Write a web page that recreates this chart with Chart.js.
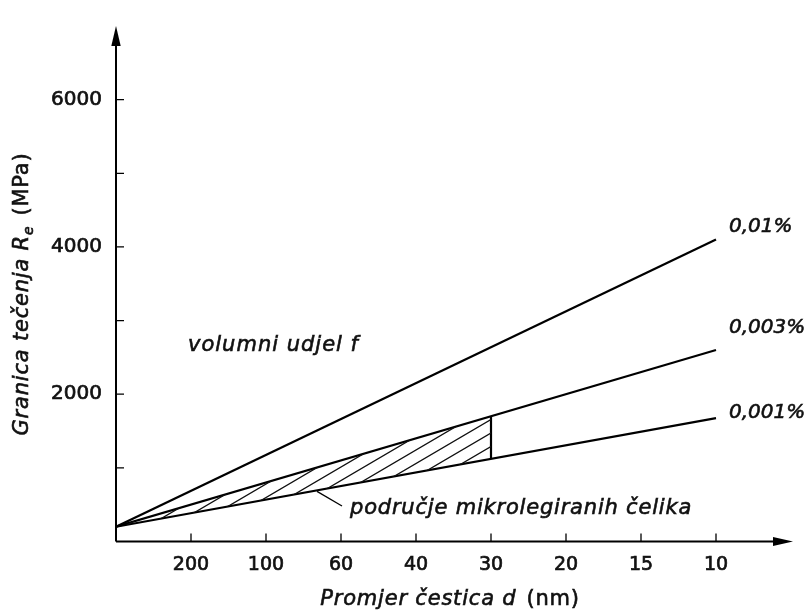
<!DOCTYPE html>
<html>
<head>
<meta charset="utf-8">
<script src="https://cdn.jsdelivr.net/npm/chart.js@4/dist/chart.umd.min.js"></script>
<style>
html,body{margin:0;padding:0;background:#fff;}
#wrap{width:811px;height:616px;}
</style>
</head>
<body>
<div id="wrap"><canvas id="c" width="811" height="616"></canvas></div>
<script>
// ---- data ----
const xTickLabels = ['200', '100', '60', '40', '30', '20', '15', '10']; // particle diameter d (nm), positions 1..8
const lineX = [0, 8];                 // start (origin) and end (10 nm) positions
const seriesNames = ['0,01%', '0,003%', '0,001%'];
const series001 = [200, 4100];        // volume fraction 0,01 %
const series0003 = [200, 2600];       // volume fraction 0,003 %
const series0001 = [200, 1675];       // volume fraction 0,001 %
const hatchX = [0, 5];                // micro-alloyed steel region up to 30 nm
const hatchUpper = [200, 1700];
const hatchLower = [200, 1120];
const yTickValues = [2000, 4000, 6000];

const FONT = "'DejaVu Sans'";
const pts = (xs, ys) => xs.map((x, i) => ({x: x, y: ys[i]}));
const lineStyle = {borderColor: '#000', borderWidth: 2.2, pointRadius: 0, fill: false, tension: 0};

const hatch = {
  id: 'hatch',
  afterDatasetsDraw(chart) {
    const ctx = chart.ctx;
    const xs = chart.scales.x, ys = chart.scales.y;
    ctx.save();
    ctx.beginPath();
    ctx.moveTo(xs.getPixelForValue(hatchX[0]), ys.getPixelForValue(hatchUpper[0]));
    ctx.lineTo(xs.getPixelForValue(hatchX[1]), ys.getPixelForValue(hatchUpper[1]));
    ctx.lineTo(xs.getPixelForValue(hatchX[1]), ys.getPixelForValue(hatchLower[1]));
    ctx.lineTo(xs.getPixelForValue(hatchX[0]), ys.getPixelForValue(hatchLower[0]));
    ctx.closePath();
    ctx.clip();
    const w = 23, h = 13.5, phase = 0.42, H = 616;
    ctx.strokeStyle = '#111';
    ctx.lineWidth = 1.3;
    ctx.beginPath();
    for (let k = 0; k < 95; k++) {
      const c = k + phase;
      ctx.moveTo(w * c, 0);
      ctx.lineTo(w * (c - H / h), H);
    }
    ctx.stroke();
    ctx.restore();
  }
};

const decor = {
  id: 'decor',
  afterDraw(chart) {
    const ctx = chart.ctx;
    const xs = chart.scales.x, ys = chart.scales.y;
    const a = chart.chartArea;
    ctx.save();
    ctx.strokeStyle = '#000';
    ctx.fillStyle = '#000';
    ctx.lineWidth = 2;
    // axes
    ctx.beginPath();
    ctx.moveTo(a.left, a.bottom); ctx.lineTo(a.left, a.top + 18);
    ctx.moveTo(a.left, a.bottom); ctx.lineTo(a.right - 16, a.bottom);
    ctx.stroke();
    // arrows
    ctx.beginPath();
    ctx.moveTo(a.left, a.top); ctx.lineTo(a.left - 4.7, a.top + 20); ctx.lineTo(a.left + 4.7, a.top + 20); ctx.closePath();
    ctx.fill();
    ctx.beginPath();
    ctx.moveTo(a.right + 2, a.bottom); ctx.lineTo(a.right - 18, a.bottom - 4.5); ctx.lineTo(a.right - 18, a.bottom + 4.5); ctx.closePath();
    ctx.fill();
    // inward ticks
    ctx.lineWidth = 1.3;
    ctx.beginPath();
    for (let v = 1000; v <= 6000; v += 1000) {
      const py = ys.getPixelForValue(v);
      ctx.moveTo(a.left, py); ctx.lineTo(a.left + 8, py);
    }
    for (let i = 1; i <= xTickLabels.length; i++) {
      const px = xs.getPixelForValue(i);
      ctx.moveTo(px, a.bottom); ctx.lineTo(px, a.bottom - 8);
    }
    ctx.stroke();

    function txt(t, x, y) {
      ctx.fillText(t, x, y);
      ctx.strokeText(t, x, y);
    }
    // series labels
    ctx.fillStyle = '#111';
    ctx.strokeStyle = '#111';
    ctx.lineWidth = 0.6;
    ctx.font = 'italic 20px ' + FONT;
    ctx.textAlign = 'left';
    ctx.textBaseline = 'middle';
    ctx.letterSpacing = '0px';
    const lx = xs.getPixelForValue(lineX[1]) + 13;
    txt(seriesNames[0], lx, 227);
    txt(seriesNames[1], lx, 328);
    txt(seriesNames[2], lx, 413);

    ctx.font = 'italic 21px ' + FONT;
    ctx.letterSpacing = '1px';
    txt('volumni udjel f', 188, 346);
    ctx.letterSpacing = '0.8px';
    txt('područje mikrolegiranih čelika', 350, 509);
    ctx.letterSpacing = '0px';
    // leader line
    ctx.lineWidth = 1.3;
    ctx.strokeStyle = '#000';
    ctx.beginPath();
    ctx.moveTo(xs.getPixelForValue(2.68), ys.getPixelForValue(680));
    ctx.lineTo(342, 506);
    ctx.stroke();

    // axis titles with mixed styles
    function mixed(parts, cx, cy, rot) {
      ctx.save();
      ctx.translate(cx, cy);
      ctx.rotate(rot);
      ctx.letterSpacing = '0.8px';
      ctx.lineWidth = 0.6;
      ctx.strokeStyle = '#111';
      let total = 0;
      parts.forEach(p => { ctx.font = p.f; total += ctx.measureText(p.t).width + (p.gap || 0); });
      let x = -total / 2;
      ctx.textAlign = 'left';
      ctx.textBaseline = 'alphabetic';
      parts.forEach(p => {
        ctx.font = p.f;
        ctx.fillText(p.t, x, 7 + (p.dy || 0));
        ctx.strokeText(p.t, x, 7 + (p.dy || 0));
        x += ctx.measureText(p.t).width + (p.gap || 0);
      });
      ctx.restore();
    }
    mixed([
      {t: 'Granica tečenja ', f: 'italic 21px ' + FONT},
      {t: 'R', f: 'italic 21px ' + FONT},
      {t: 'e', f: 'italic 14px ' + FONT, dy: 5, gap: 10},
      {t: '(MPa)', f: '21px ' + FONT}
    ], 21, 294, -Math.PI / 2);
    mixed([
      {t: 'Promjer čestica ', f: 'italic 21px ' + FONT},
      {t: 'd', f: 'italic 21px ' + FONT, gap: 10},
      {t: '(nm)', f: '21px ' + FONT}
    ], 450, 598, 0);
    ctx.restore();
  }
};

const chart = new Chart(document.getElementById('c'), {
  type: 'line',
  data: {
    datasets: [
      Object.assign({label: seriesNames[0], data: pts(lineX, series001)}, lineStyle),
      Object.assign({label: seriesNames[1], data: pts(lineX, series0003)}, lineStyle),
      Object.assign({label: seriesNames[2], data: pts(lineX, series0001)}, lineStyle),
      Object.assign({label: 'edge', data: [{x: hatchX[1], y: hatchLower[1]}, {x: hatchX[1], y: hatchUpper[1]}]}, lineStyle)
    ]
  },
  options: {
    responsive: false,
    animation: false,
    layout: {padding: {top: 13, right: 20, left: 0, bottom: 0}},
    plugins: {legend: {display: false}, tooltip: {enabled: false}},
    scales: {
      x: {
        type: 'linear', min: 0, max: 9,
        afterFit: s => { s.height = 74.5; },
        grid: {display: false, drawTicks: false},
        border: {display: false},
        ticks: {
          stepSize: 1, padding: 12, color: '#111', maxRotation: 0, autoSkip: false,
          textStrokeColor: '#111', textStrokeWidth: 0.7,
          font: {family: FONT, size: 19},
          callback: v => xTickLabels[v - 1] || ''
        }
      },
      y: {
        type: 'linear', min: 0, max: 7000,
        afterFit: s => { s.width = 116; },
        grid: {display: false, drawTicks: false},
        border: {display: false},
        ticks: {
          stepSize: 1000, padding: 14, color: '#111',
          textStrokeColor: '#111', textStrokeWidth: 0.7,
          font: {family: FONT, size: 20},
          callback: v => yTickValues.includes(v) ? String(v) : ''
        }
      }
    }
  },
  plugins: [hatch, decor]
});
</script>
</body>
</html>
